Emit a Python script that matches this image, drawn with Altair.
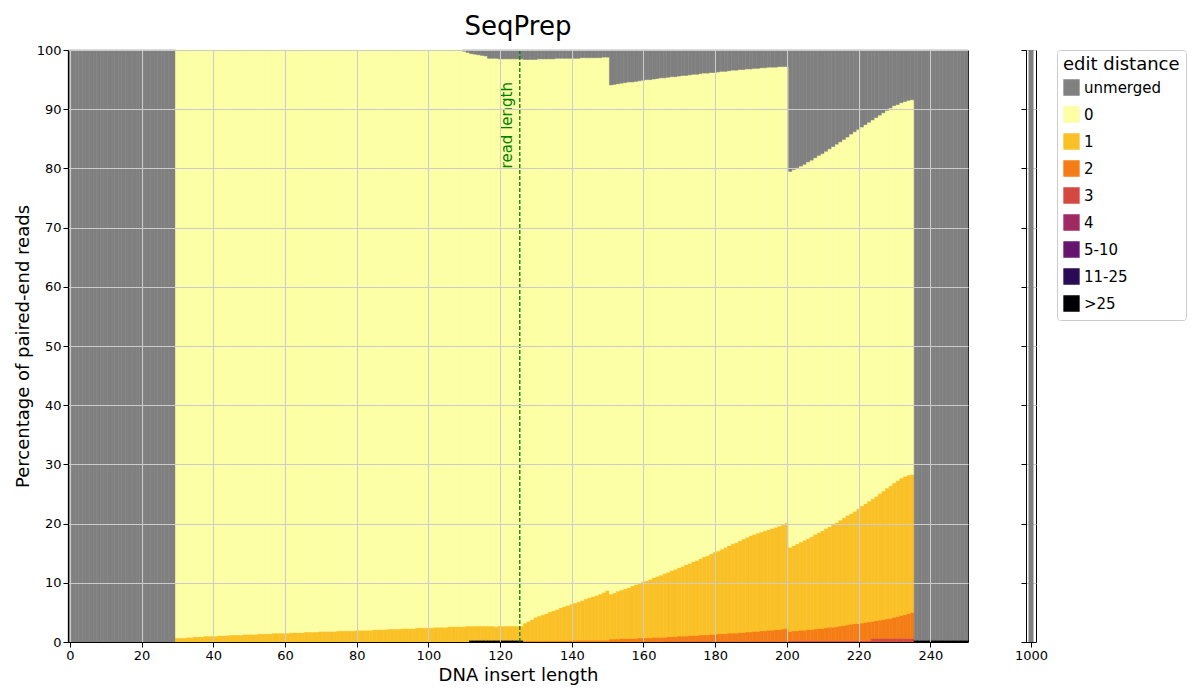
import altair as alt
import pandas as pd

cats = ["unmerged", "0", "1", "2", "3", "4", "5-10", "11-25", ">25"]
colors = ["#808080", "#fcffa4", "#fac127", "#f57d15", "#d44842", "#9f2a63", "#65156e", "#280b54", "#000004"]

# cumulative top of "1" (includes 2,3,...) for x = 30..235
c1 = [0.7,0.7,0.7,0.8,0.8,0.9,0.9,0.9,1.0,1.0,
      1.0,1.0,1.1,1.1,1.1,1.2,1.2,1.2,1.2,1.3,
      1.3,1.3,1.3,1.4,1.4,1.4,1.4,1.5,1.5,1.5,
      1.5,1.5,1.6,1.6,1.6,1.6,1.7,1.7,1.7,1.7,
      1.8,1.8,1.8,1.8,1.8,1.9,1.9,1.9,1.9,1.9,
      2.0,2.0,2.0,2.0,2.0,2.1,2.1,2.1,2.1,2.2,
      2.2,2.2,2.2,2.3,2.3,2.3,2.3,2.4,2.4,2.4,
      2.4,2.4,2.5,2.5,2.5,2.5,2.6,2.6,2.6,2.6,
      2.6,2.7,2.7,2.7,2.7,2.7,2.7,2.7,2.7,2.6,
      2.7,2.7,2.7,2.7,2.7,2.7,2.7,
      3.2,3.5,3.8,4.2,4.4,4.6,4.8,5.1,5.3,5.5,5.8,6.0,6.2,
      6.4,6.6,6.8,7.0,7.3,7.5,7.7,7.9,8.1,8.4,8.7,
      8.1,8.3,8.6,8.8,9.0,9.2,9.5,9.7,9.9,10.2,
      10.4,10.6,10.9,11.1,11.3,11.6,11.8,12.1,12.3,12.6,
      12.8,13.1,13.3,13.6,13.8,14.1,14.4,14.6,14.9,15.2,
      15.4,15.7,16.0,16.3,16.6,16.8,17.1,17.4,17.7,18.0,
      18.2,18.4,18.6,18.8,19.0,19.2,19.4,19.6,19.8,20.1,
      16.0,16.3,16.6,16.9,17.2,17.5,17.8,18.2,18.5,18.8,
      19.2,19.5,19.9,20.2,20.6,21.0,21.4,21.7,22.1,22.5,
      23.0,23.4,23.8,24.2,24.6,25.1,25.5,26.0,26.4,26.9,
      27.3,27.7,28.0,28.2,28.3]
# cumulative top of "2" for x = 127..235
c2 = [0.2]*13 + [0.3]*11 + \
     [0.5,0.5,0.5,0.6,0.6,0.6,0.6,0.6,0.7,0.7,
      0.7,0.7,0.8,0.8,0.8,0.8,0.9,0.9,0.9,1.0,
      1.0,1.0,1.1,1.1,1.1,1.2,1.2,1.2,1.3,1.3,
      1.4,1.4,1.4,1.5,1.5,1.5,1.6,1.6,1.7,1.7,
      1.8,1.8,1.9,1.9,2.0,2.0,2.1,2.1,2.2,2.3,
      1.8,1.9,1.9,2.0,2.0,2.1,2.1,2.2,2.3,2.3,
      2.4,2.5,2.5,2.6,2.7,2.8,2.9,3.0,3.1,3.1,
      3.2,3.3,3.4,3.5,3.6,3.7,3.8,3.9,4.0,4.2,4.3,4.5,4.6,4.8,5.0]
# top of "3" for x = 166..235
c3 = [0.1]*35 + [0.2]*23 + [0.6]*12
# unmerged share for x = 110..235
unm = [0.2,0.4,0.6,0.7,0.8,0.9,1.0,1.4,1.4,1.4,
       1.5,1.5,1.5,1.5,1.5,1.5,1.5,
       1.6,1.6,1.6,1.6,1.5,1.5,1.5,1.5,1.5,1.4,1.4,1.4,1.4,1.4,1.4,1.4,1.3,1.3,1.3,1.3,1.3,1.3,1.2,1.2,
       5.9,5.8,5.7,5.6,5.5,5.4,5.4,5.3,5.2,5.1,
       5.0,5.0,4.9,4.8,4.7,4.7,4.6,4.5,4.5,4.4,
       4.3,4.3,4.2,4.1,4.1,4.0,3.9,3.9,3.8,3.8,
       3.7,3.6,3.6,3.5,3.4,3.4,3.3,3.3,3.2,3.2,
       3.1,3.1,3.0,3.0,2.9,2.9,2.9,2.8,2.8,2.8,
       20.5,20.2,19.9,19.6,19.3,18.9,18.6,18.2,17.8,17.5,
       17.1,16.7,16.3,15.9,15.5,15.1,14.7,14.2,13.8,13.4,
       13.0,12.6,12.2,11.8,11.4,11.0,10.6,10.2,9.8,9.4,
       9.2,8.9,8.7,8.5,8.4]
# >25 share at x = 112..126 and 236..250
big = 0.3

rows = []
def add(x, vals):
    lo = 0.0
    for c in reversed(cats):
        v = vals.get(c, 0.0)
        if v > 0:
            rows.append({"xl": x - 0.5, "xr": x + 0.5, "y0": lo, "y1": lo + v, "cat": c})
            lo += v

for x in range(0, 251):
    vals = {}
    if x < 30:
        vals["unmerged"] = 100.0
    elif x > 235:
        vals[">25"] = big
        vals["unmerged"] = 100.0 - big
    else:
        t1 = c1[x - 30]
        t2 = c2[x - 127] if x >= 127 else 0.0
        t3 = c3[x - 166] if x >= 166 else 0.0
        b = big if 112 <= x <= 126 else 0.0
        u = unm[x - 110] if x >= 110 else 0.0
        vals[">25"] = b
        vals["3"] = t3
        vals["2"] = t2 - t3
        vals["1"] = t1 - t2 - b
        vals["unmerged"] = u
        vals["0"] = 100.0 - t1 - u
    add(x, vals)
df = pd.DataFrame(rows)
df2 = pd.DataFrame([{"xl": 999.5, "xr": 1000.5, "y0": 0.0, "y1": 100.0, "cat": "unmerged"}])

cscale = alt.Scale(domain=cats, range=colors)
color = alt.Color("cat:N", scale=cscale,
                  legend=alt.Legend(title="edit distance", symbolType="square", symbolSize=220,
                                    titleFontSize=18, labelFontSize=15, titleFontWeight="normal",
                                    padding=6, strokeColor="#cccccc", cornerRadius=3, offset=8,
                                    fillColor="white", labelLimit=200, rowPadding=6))
stroke = alt.Stroke("cat:N", scale=cscale, legend=None)
ysc = alt.Scale(domain=[0, 100], nice=False)
yvals = list(range(0, 101, 10))

bars = alt.Chart(df).mark_rect(strokeWidth=0.6).encode(
    x=alt.X("xl:Q", scale=alt.Scale(domain=[-0.5, 250.5], nice=False),
            axis=alt.Axis(values=list(range(0, 251, 10)), title="DNA insert length", grid=True,
                          labelOverlap=False, zindex=1)),
    x2="xr:Q",
    y=alt.Y("y0:Q", scale=ysc, axis=alt.Axis(values=yvals, title="Percentage of paired-end reads",
                                            zindex=1, labelOverlap=False)),
    y2="y1:Q",
    color=color,
    stroke=stroke,
)
rule_df = pd.DataFrame({"x": [125.5]})
rule = alt.Chart(rule_df).mark_rule(color="#008000", strokeDash=[4, 2], strokeWidth=1.3).encode(x="x:Q")
txt_df = pd.DataFrame({"x": [122.0], "y": [80.0], "t": ["read length"]})
txt = alt.Chart(txt_df).mark_text(angle=270, align="left", baseline="middle", color="#008000",
                                  fontSize=15).encode(x="x:Q", y="y:Q", text="t:N")
main = alt.layer(bars, rule, txt).properties(width=900, height=592,
                                             title=alt.TitleParams("SeqPrep", fontSize=26, fontWeight="normal"))

side = alt.Chart(df2).mark_rect().encode(
    x=alt.X("xl:Q", scale=alt.Scale(domain=[999, 1001], nice=False),
            axis=alt.Axis(values=[1000], title=None, grid=False, format="d")),
    x2="xr:Q",
    y=alt.Y("y0:Q", scale=ysc, axis=alt.Axis(values=yvals, labels=False, title=None)),
    y2="y1:Q",
    color=color,
).properties(width=10, height=592)

chart = alt.hconcat(main, side, spacing=44).configure(font="DejaVu Sans").configure_axis(
    labelFontSize=13, titleFontSize=18, titleFontWeight="normal", gridColor="#cccccc",
    domainColor="black", tickColor="black", labelColor="black", titleColor="black"
).configure_view(stroke="black").configure_legend(orient="right")

chart.save("out.html", embed_options={"renderer": "svg", "actions": False})
